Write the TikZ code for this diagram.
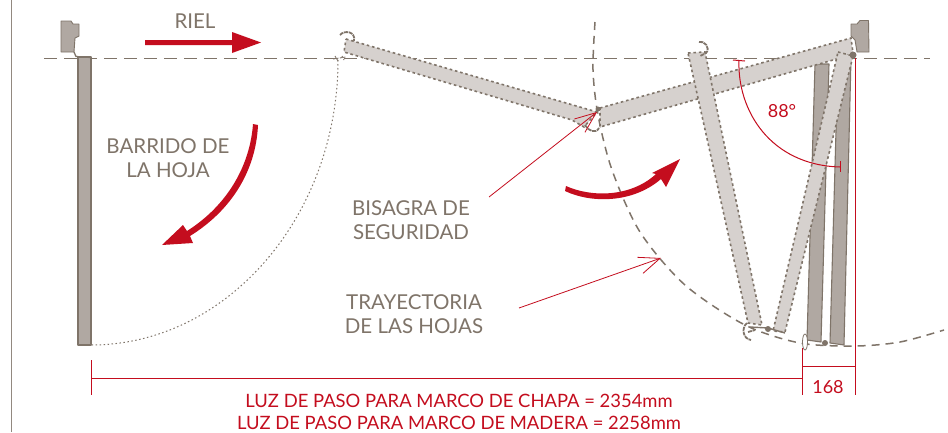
\documentclass[tikz,border=0pt]{standalone}
\usepackage{fontspec}
\setmainfont{Lato}
\usetikzlibrary{arrows.meta}
\definecolor{rd}{HTML}{C40D1E}
\definecolor{txt}{HTML}{7F7469}
\definecolor{lf}{HTML}{D6D1CE}
\definecolor{sld}{HTML}{B0A8A2}
\tikzset{
 label/.style={text=txt,font=\fontsize{20.5}{24}\selectfont,align=center,inner sep=0pt},
 redlabel/.style={text=rd,font=\fontsize{18.4}{22}\selectfont,align=center,inner sep=0pt},
 solidleaf/.style={fill=sld,draw=txt,line width=1.1pt,line join=round},
 openleaf/.style={fill=lf,draw=txt,line width=1.6pt,dash pattern=on 2.6pt off 2.8pt},
 hookline/.style={draw=txt,line width=1.8pt,dash pattern=on 4pt off .8pt},
 redline/.style={draw=rd,line width=1pt},
 guide/.style={draw=txt,line width=1.2pt},
 pointer/.style={draw=rd,line width=.8pt,-{Straight Barb[length=21pt,width=17pt,line width=.8pt]}},
 pin/.style={fill=txt,draw=none,circle,minimum size=6pt,inner sep=0pt}
}
\begin{document}
\begin{tikzpicture}[x=1pt,y=-1pt]
\useasboundingbox (0,0) rectangle (948,432);
\fill[white] (0,0) rectangle (948,432);
\draw[txt!85,line width=1pt] (11.5,0) -- (11.5,432);
% frames
\draw[solidleaf,line width=.9pt] (61,21)--(71,21)--(73,24)--(79,24)--(79,36)--(75,38)--(74,52)--(61,52)--cycle;
\draw[solidleaf,line width=.9pt] (851,24)--(857,24)--(860,20.5)--(868.5,20.5)--(869,52)--(857,52)--(855,40)--(851,36)--cycle;
% sweep
\draw[txt,line width=1pt,dash pattern=on 1.5pt off 2.5pt] (338,60) .. controls (338,216) and (227,345) .. (91,345);
% big guide arc
\draw[guide,line width=1.5pt,dash pattern=on 8pt off 6pt] plot[smooth] coordinates {(595,22) (593,70) (598,115) (612,170) (640,232) (685,285) (745,325) (800,343) (855,346) (900,342) (944,330)};
% solid leaves
\draw[solidleaf] (815,64)--(829,64)--(821,342)--(807,340)--cycle;
\draw[solidleaf] (838,60)--(851,58)--(844,345)--(830,343)--cycle;
% rail
\draw[guide,line width=1pt,dash pattern=on 13pt off 7pt] (44,58.5)--(930,58.5);
% left leaf
\draw[solidleaf] (78,57)--(91,57)--(91,345)--(78,345)--cycle;
\draw[txt,line width=1.3pt] (74,52)--(76,56.5)--(91,57.5);
% open leaves
\draw[openleaf] (346,39)--(597,112)--(584,127)--(572,120)--(344,52)--cycle;
\draw[hookline] (340,35) .. controls (344,30) and (356,31) .. (354,41);
\draw[hookline] (585,125) .. controls (588,131) and (596,134) .. (599,128);
\draw[txt,line width=.9pt,dash pattern=on 2pt off 1.5pt] (333,59)--(346,57) (335,56)--(338,61) (342,56)--(344,60);
\draw[openleaf] (600,108)--(851,38)--(853,53)--(833,60)--(600,127)--cycle;
\draw[openleaf] (688,53)--(705,52)--(762,325)--(748,323)--cycle;
\draw[hookline] (699,42) .. controls (704,40) and (711,48) .. (706,53) -- (700,56);
\draw[hookline] (747,323) .. controls (741,328) and (743,339) .. (751,340);
\draw[hookline] (748,332)--(755,330);
\draw[openleaf] (838,52)--(853,56)--(785,332)--(773,331)--cycle;
\draw[txt,line width=1.4pt] (750,327)--(768,328)--(785,333);
\node[pin] (hingeA) at (768,329) {};
\node[pin] (hingeB) at (825,343) {};
\node[pin,minimum size=7pt] (hingeC) at (853,55) {};
\node[pin,minimum size=5pt] (hingeD) at (598,109) {};
\draw[txt,line width=.8pt,fill=white] (805,342) ellipse (2.5pt and 8pt);
% text
\node[label] (riel) at (195,21.5) {RIEL};
\node[label] (barrido) at (168,158) {BARRIDO DE\\LA HOJA};
\node[label] (bisagra) at (411,220) {BISAGRA DE\\SEGURIDAD};
\node[label] (tray) at (414,314) {TRAYECTORIA\\DE LAS HOJAS};
\node[redlabel,font=\fontsize{18}{20}\selectfont] (ang) at (782,111) {88°};
\node[redlabel,font=\fontsize{18}{20}\selectfont] (dim) at (828,387) {168};
\node[redlabel] (luz) at (459,412) {LUZ DE PASO PARA MARCO DE CHAPA = 2354mm\\LUZ DE PASO PARA MARCO DE MADERA = 2258mm};
% big arrows
\fill[rd] (145,40)--(232,40)--(232,32)--(261,42.5)--(232,53)--(232,45)--(145,45)--cycle;
\fill[rd] (253,124) .. controls (250,165) and (228,205) .. (187,231) -- (183,225) -- (162,245) -- (193,243) -- (190,236) .. controls (232,210) and (256,170) .. (258,125) -- cycle;
\fill[rd] (566,186) .. controls (590,197) and (630,198) .. (656,174) -- (652,173) -- (680,159) -- (666,187) -- (661,179) .. controls (632,204) and (590,203) .. (565,191) -- cycle;
% pointers
\coordinate (pa) at (489,197); \coordinate (pb) at (597,112);
\coordinate (pc) at (519,308); \coordinate (pd) at (661,258);
\draw[pointer] (pa)--(pb);
\draw[pointer] (pc)--(pd);
% angle
\draw[redline] (739,60) .. controls (737,110) and (770,165) .. (840,167);
\draw[redline] (733,60)--(745,61);
\draw[redline] (840,161)--(840,172);
% dimensions
\draw[redline] (91,360)--(91,395);
\draw[redline] (91,378)--(802,378);
\draw[redline] (802,348)--(802,395);
\draw[redline] (855,58)--(855,395);
\draw[redline] (802,366)--(855,366);
\end{tikzpicture}
\end{document}
